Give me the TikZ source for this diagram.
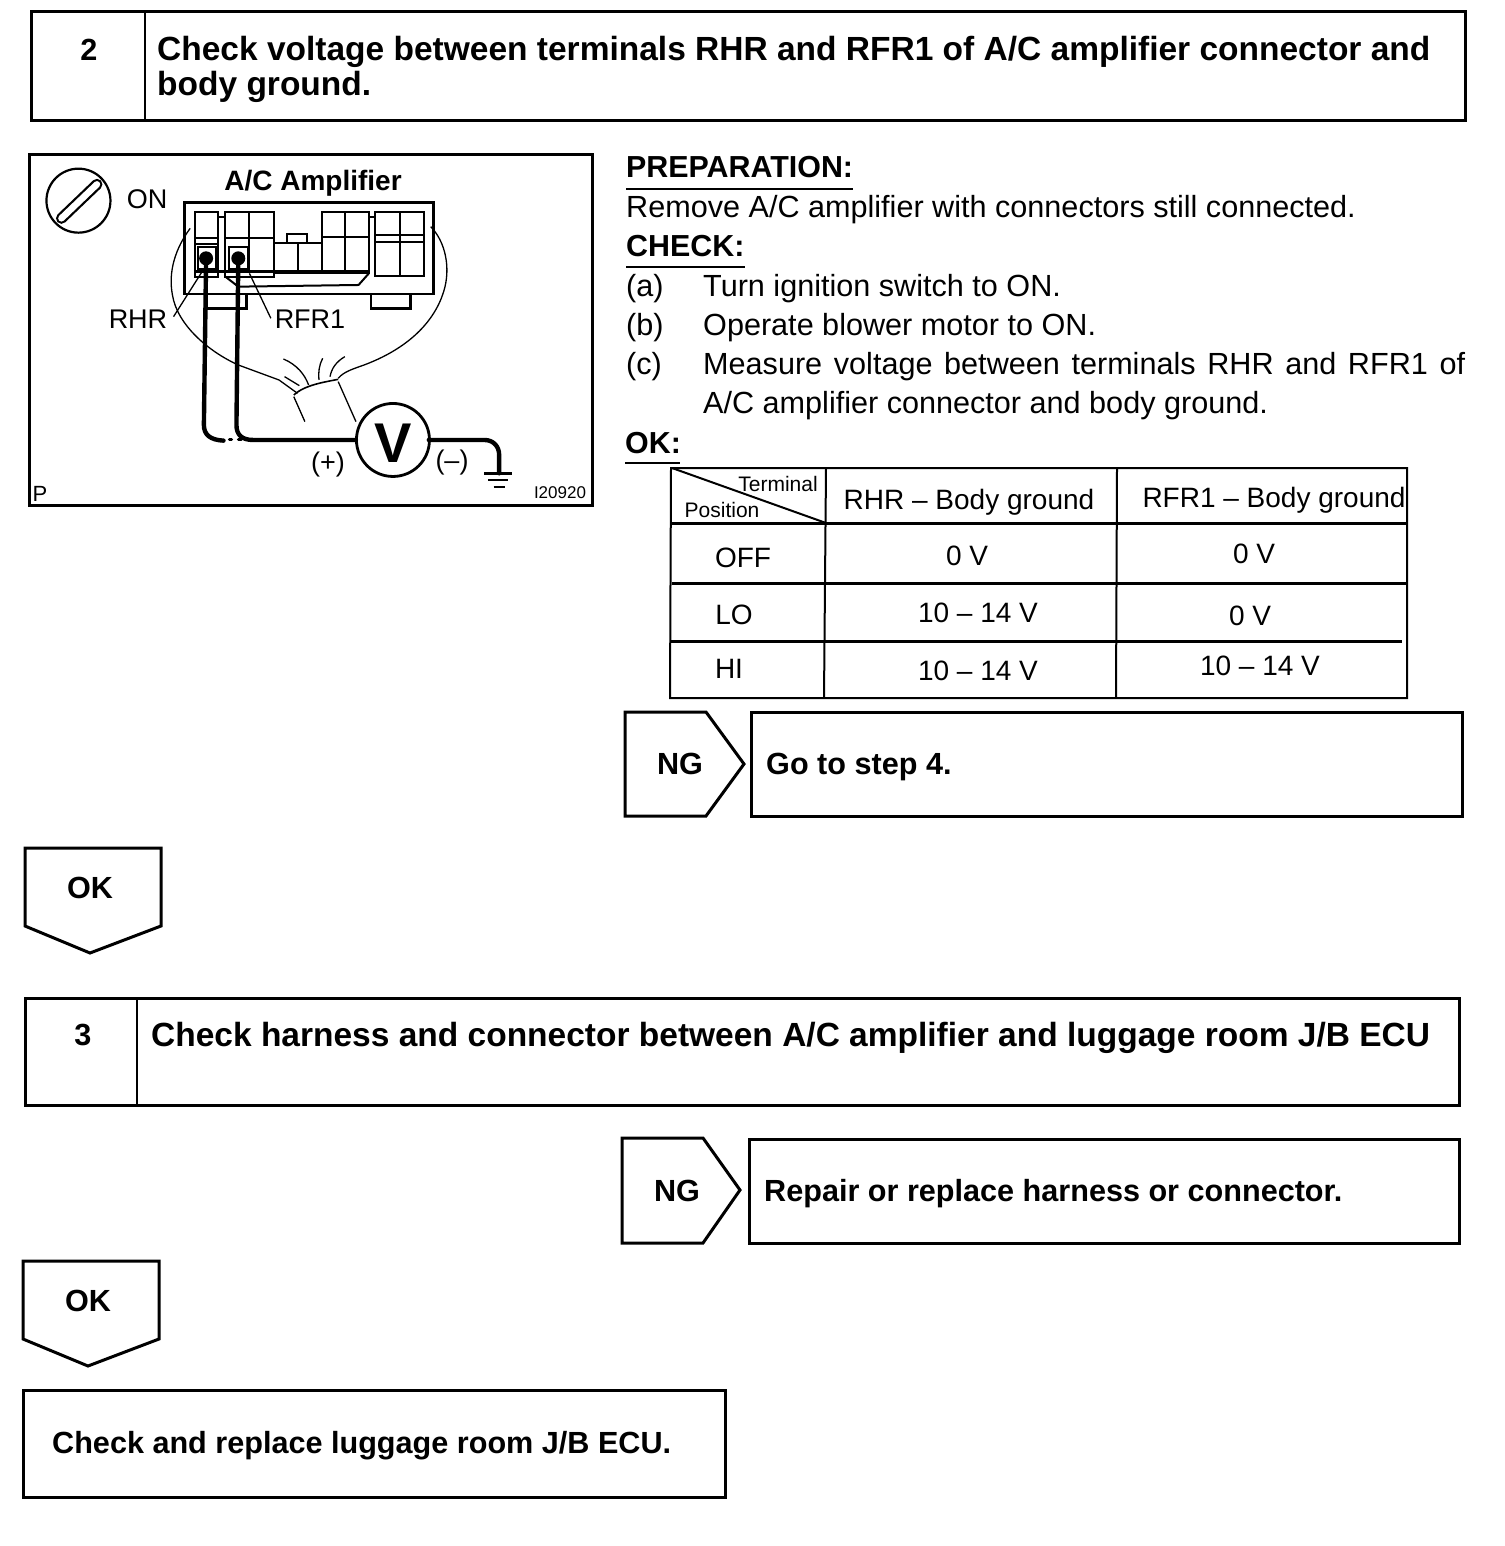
\documentclass[tikz,border=0pt]{standalone}
\usepackage{fontspec}
\setmainfont{Liberation Sans}
\newcommand{\fsz}[1]{\fontsize{#1}{#1}\selectfont}
\tikzset{
  x=1pt,y=-1pt,
  boxline/.style={draw=black,line width=3pt,line join=miter},
  midline/.style={draw=black,line width=2pt},
  tline/.style={draw=black,line width=2pt},
  hline/.style={draw=black,line width=3pt},
  thinline/.style={draw=black,line width=1.3pt},
  title/.style={font=\bfseries\fsz{33.5},anchor=base west,inner sep=0pt},
  titlemid/.style={font=\bfseries\fsz{30.6},anchor=base,inner sep=0pt},
  small title/.style={font=\bfseries\fsz{30.6},anchor=base west,inner sep=0pt},
  head/.style={font=\bfseries\fsz{30.4},anchor=base west,inner sep=0pt},
  body/.style={font=\fsz{30.6},anchor=base west,inner sep=0pt},
  cell/.style={font=\fsz{28},anchor=base,inner sep=0pt},
  fig/.style={font=\fsz{27},anchor=base,inner sep=0pt},
  wire/.style={draw=black,line width=4.4pt,line cap=round,line join=round},
}
\begin{document}
\begin{tikzpicture}
\useasboundingbox (0,0) rectangle (1504,1546);
\fill[white] (0,0) rectangle (1504,1546);

% header 2
\draw[boxline] (31,12) rectangle (1465,121);
\draw[midline] (145,12) -- (145,121);
\node[titlemid] (n2) at (89,61) {2};
\node[title] (t2a) at (157,61) {Check voltage between terminals RHR and RFR1 of A/C amplifier connector and};
\node[title] (t2b) at (157,96) {body ground.};

% picture frame
\draw[boxline] (29,155) rectangle (592,505);
\begin{scope}[shift={(20,145)},x=0.37pt,y=-0.3333pt]
  % ignition
  \draw[line width=2.2pt] (158,167) ellipse [x radius=32pt,y radius=32pt];
  \draw[line width=11pt,line cap=round] (112,220) -- (208,118);
  \draw[white,line width=6.5pt,line cap=round] (112,220) -- (208,118);
  % connector body
  \draw[line width=2.6pt] (445,172) rectangle (1118,447);
  \draw[line width=2pt] (472,200) rectangle (535,395);
  \draw[line width=2pt] (472,280) -- (535,280) (472,297) -- (535,297);
  \draw[line width=2pt] (480,305) rectangle (530,372);
  \draw[line width=2pt] (555,200) rectangle (687,395);
  \draw[line width=2pt] (620,200) -- (620,385);
  \draw[line width=2pt] (555,280) -- (687,280);
  \draw[line width=2pt] (565,305) rectangle (615,372);
  \draw[line width=2pt] (687,295) rectangle (815,385);
  \draw[line width=2pt] (750,295) -- (750,385);
  \draw[line width=2pt] (722,295) -- (722,268) -- (775,268) -- (775,295);
  \draw[line width=2pt] (815,200) rectangle (943,385);
  \draw[line width=2pt] (878,200) -- (878,385);
  \draw[line width=2pt] (815,277) -- (943,277);
  \draw[line width=2pt] (960,200) rectangle (1092,393);
  \draw[line width=2pt] (1028,200) -- (1028,393);
  \draw[line width=2pt] (960,270) -- (1092,270) (960,292) -- (1092,292);
  \draw[line width=2pt] (535,215) -- (555,215) (943,215) -- (960,215);
  \draw[line width=2.4pt] (470,380) -- (940,380);
  \draw[line width=2pt] (555,395) -- (590,425) -- (915,420) -- (943,385);
  \draw[line width=2.4pt] (505,447) -- (505,490) -- (612,490) -- (612,447);
  \draw[line width=2.4pt] (948,447) -- (948,490) -- (1055,490) -- (1055,447);
  % magnifier outline
  \draw[thinline] (460,250) .. controls (420,310) and (400,380) .. (412,450)
     .. controls (425,540) and (510,620) .. (590,660) -- (700,705) -- (750,745);
  \draw[thinline] (1110,245) .. controls (1150,290) and (1165,370) .. (1145,440)
     .. controls (1120,530) and (1050,610) .. (930,660) .. controls (900,672) and (875,680) .. (860,700);
  % hand
  \draw[line width=1.6pt] (740,750) .. controls (770,720) and (820,712) .. (860,703);
  \draw[thinline] (740,755) -- (770,830);
  \draw[thinline] (860,710) -- (908,830);
  \draw[thinline] (712,642) .. controls (750,660) and (770,690) .. (780,720);
  \draw[thinline] (715,695) -- (755,722);
  \draw[thinline] (818,640) .. controls (808,660) and (806,685) .. (808,705);
  \draw[thinline] (878,635) .. controls (855,650) and (842,670) .. (838,695);
  % leaders
  \draw[thinline] (495,375) -- (415,515);
  \draw[thinline] (620,385) -- (678,520);
  % probes
  \fill (503,340) circle [radius=7pt];
  \fill (590,340) circle [radius=7pt];
  \draw[wire] (503,340) -- (497,840) .. controls (497,870) and (515,885) .. (550,887);
  \draw[wire,line width=3pt] (566,885) -- (572,885) (590,885) -- (598,885);
  \draw[wire] (590,340) -- (585,840) .. controls (585,870) and (600,885) .. (630,885) -- (908,885);
  \draw[wire] (1105,885) -- (1255,885) .. controls (1280,885) and (1295,905) .. (1295,930) -- (1295,985);
  \draw[line width=3pt] (1255,985) -- (1330,985);
  \draw[line width=2pt] (1265,1005) -- (1320,1005);
  \draw[line width=2pt] (1280,1025) -- (1310,1025);
  % voltmeter
  \draw[line width=2.8pt] (1008,885) ellipse [x radius=36.5pt,y radius=36.5pt];
\end{scope}
\node[font=\bfseries\fsz{56},anchor=base,inner sep=0pt] (volt) at (393,462) {V};
\node[fig,font=\bfseries\fsz{28}] (ampl) at (313,191) {A/C Amplifier};
\node[fig] (on) at (147,209) {ON};
\node[fig] (rhr) at (138,328) {RHR};
\node[fig] (rfr) at (310,328) {RFR1};
\node[fig] (plus) at (328,471) {(+)};
\node[fig] (minus) at (452,469) {(–)};
\node[fig,font=\fsz{22}] (p) at (40,501) {P};
\node[fig,font=\fsz{17}] (code) at (560,498) {I20920};

% right text
\node[head] (prep) at (626,178) {PREPARATION:};
\draw[midline] (626,189) -- (853,189);
\node[body] (rem) at (626,218) {Remove A/C amplifier with connectors still connected.};
\node[head] (chk) at (626,257) {CHECK:};
\draw[midline] (626,267) -- (745,267);
\node[body] (la) at (626,296) {(a)};
\node[body] (lat) at (703,296) {Turn ignition switch to ON.};
\node[body] (lb) at (626,335) {(b)};
\node[body] (lbt) at (703,335) {Operate blower motor to ON.};
\node[body] (lc) at (626,374) {(c)};
\node[body] (lct) at (703,374) {\makebox[762pt][s]{Measure voltage between terminals RHR and RFR1 of}};
\node[body] (lct2) at (703,413) {A/C amplifier connector and body ground.};
\node[head] (okh) at (625,453) {OK:};
\draw[midline] (625,463) -- (680,463);

% table
\draw[tline] (671,468) -- (1407,468) -- (1407,698) -- (670,698) -- cycle;
\draw[tline] (826,468) -- (824,698);
\draw[tline] (1117,468) -- (1116,698);
\draw[hline] (672,523) -- (1407,523);
\draw[hline] (672,583) -- (1407,583);
\draw[hline] (671,641) -- (1402,641);
\draw[midline] (672,468) -- (826,523);
\node[cell,font=\fsz{21}] (tt) at (778,491) {Terminal};
\node[cell,font=\fsz{21}] (tp) at (722,517) {Position};
\node[cell] (c1) at (969,509) {RHR – Body ground};
\node[cell] (c2) at (1274,507) {RFR1 – Body ground};
\node[cell] (r1) at (743,567) {OFF};
\node[cell] (r1a) at (967,565) {0 V};
\node[cell] (r1b) at (1254,563) {0 V};
\node[cell] (r2) at (734,624) {LO};
\node[cell] (r2a) at (978,622) {10 – 14 V};
\node[cell] (r2b) at (1250,625) {0 V};
\node[cell] (r3) at (729,678) {HI};
\node[cell] (r3a) at (978,680) {10 – 14 V};
\node[cell] (r3b) at (1260,675) {10 – 14 V};

% NG 1
\draw[boxline] (625,712) -- (706,712) -- (744,764) -- (706,816) -- (625,816) -- cycle;
\node[titlemid] (ng1) at (680,774) {NG};
\draw[boxline] (751,712) rectangle (1462,816);
\node[small title] (go) at (766,774) {Go to step 4.};

% OK 1
\draw[boxline] (25,848) -- (161,848) -- (161,926) -- (90,953) -- (25,926) -- cycle;
\node[titlemid] (ok1) at (90,898) {OK};

% header 3
\draw[boxline] (25,998) rectangle (1459,1105);
\draw[midline] (137,998) -- (137,1105);
\node[titlemid] (n3) at (83,1045) {3};
\node[title] (t3) at (151,1046) {Check harness and connector between A/C amplifier and luggage room J/B ECU};

% NG 2
\draw[boxline] (622,1138) -- (703,1138) -- (740,1190) -- (703,1243) -- (622,1243) -- cycle;
\node[titlemid] (ng2) at (677,1201) {NG};
\draw[boxline] (749,1139) rectangle (1459,1243);
\node[small title] (rep) at (764,1201) {Repair or replace harness or connector.};

% OK 2
\draw[boxline] (23,1261) -- (159,1261) -- (159,1339) -- (88,1366) -- (23,1339) -- cycle;
\node[titlemid] (ok2) at (88,1311) {OK};

% final
\draw[boxline] (23,1390) rectangle (725,1497);
\node[small title] (fin) at (52,1453) {Check and replace luggage room J/B ECU.};
\end{tikzpicture}
\end{document}
